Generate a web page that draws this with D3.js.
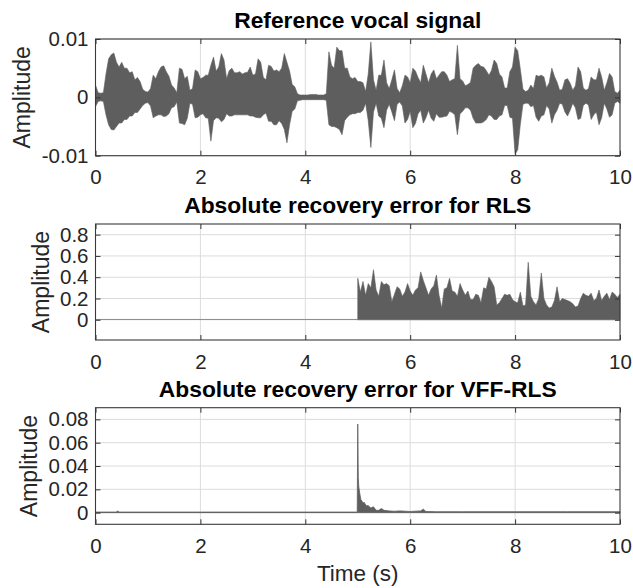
<!DOCTYPE html>
<html>
<head>
<meta charset="utf-8">
<script src="https://cdn.jsdelivr.net/npm/d3@7"></script>
<style>
body { margin: 0; background: #fff; }
text { font-family: "Liberation Sans", Arial, Helvetica, sans-serif; }
</style>
</head>
<body>
<svg id="chart"></svg>
<script>
// time axis
var xTicks = [0, 2, 4, 6, 8, 10];

// reference vocal signal, envelope every 0.05 s from t = 0, in units of 1e-3
var vocalStep = 0.05;
var vocalUpper = [
  2.1,0.8,0.7,0.8,4.0,6.6,7.3,7.6,6.0,5.2,6.0,5.0,5.0,4.2,4.4,3.0,3.4,2.7,1.4,1.0,
  0.9,1.5,3.8,3.2,4.4,5.2,5.4,4.4,3.6,2.1,1.6,0.8,5.0,4.8,3.2,3.6,1.2,1.5,4.7,4.4,
  3.2,3.4,3.8,3.8,5.5,6.9,4.5,5.2,7.5,6.4,3.2,4.6,5.0,4.2,4.2,4.4,4.0,4.2,4.3,5.2,
  3.8,4.0,6.6,6.0,3.4,3.0,5.5,5.3,4.5,4.7,4.4,5.0,7.5,6.0,4.5,2.2,1.8,0.6,0.4,0.4,
  0.4,0.4,0.5,0.5,0.5,0.4,0.4,0.4,0.6,7.8,5.5,5.0,8.6,8.0,8.0,5.0,5.0,3.5,3.2,3.4,
  2.7,2.7,2.5,1.0,4.0,9.5,3.0,1.2,3.8,3.8,6.4,2.5,1.5,3.0,4.7,1.5,0.8,2.0,3.8,3.5,
  2.5,5.0,4.5,3.4,2.5,5.5,4.0,2.5,4.0,4.7,3.2,3.8,4.4,4.4,3.8,2.7,3.0,3.2,8.9,3.2,
  2.8,2.0,2.2,2.6,5.0,5.5,5.8,5.3,5.2,4.6,3.8,4.6,6.4,5.8,4.0,3.5,1.6,1.6,4.4,5.2,
  8.6,8.0,4.8,1.4,1.0,1.2,2.1,1.5,3.8,3.6,3.8,3.5,1.6,2.5,5.0,3.6,2.6,1.2,1.4,3.0,
  3.2,2.4,1.2,2.0,5.2,4.4,1.6,1.2,1.5,3.5,3.0,3.0,5.0,3.5,1.2,2.5,4.1,3.5,1.0,0.7,
  1.2
];
var vocalLower = [
  -1.6,-0.7,-0.6,-0.7,-3.0,-4.7,-5.5,-5.6,-5.0,-4.4,-4.4,-3.8,-3.8,-3.2,-3.2,-2.6,-2.6,-2.0,-1.4,-1.0,
  -0.9,-1.5,-3.5,-3.2,-3.0,-3.0,-3.3,-3.2,-2.8,-1.8,-1.6,-0.8,-4.4,-4.5,-4.7,-3.6,-1.0,-1.2,-3.5,-3.4,
  -3.0,-2.8,-3.5,-3.6,-7.5,-4.0,-3.5,-3.6,-4.2,-3.8,-2.8,-3.2,-3.2,-3.0,-3.0,-3.0,-3.0,-3.0,-3.0,-3.2,
  -3.2,-3.4,-3.5,-3.5,-3.0,-2.7,-4.1,-4.1,-4.7,-4.7,-4.0,-4.5,-5.5,-7.8,-4.7,-2.4,-2.0,-0.6,-0.5,-0.4,
  -0.4,-0.4,-0.4,-0.4,-0.4,-0.4,-0.4,-0.4,-0.5,-4.7,-5.0,-5.0,-5.2,-5.5,-6.4,-4.0,-3.4,-3.0,-2.8,-2.8,
  -2.6,-2.6,-2.2,-1.0,-4.0,-8.6,-2.5,-1.0,-3.2,-3.6,-5.2,-2.2,-1.2,-2.5,-4.0,-1.2,-0.8,-1.5,-4.4,-3.8,
  -2.4,-5.2,-4.5,-2.8,-2.2,-4.4,-3.5,-2.2,-3.6,-4.1,-2.8,-3.4,-3.4,-3.3,-3.2,-2.4,-2.6,-3.0,-6.4,-2.8,
  -2.4,-1.8,-1.8,-2.2,-3.6,-4.4,-4.4,-4.4,-4.2,-3.8,-3.0,-3.2,-3.8,-3.8,-3.2,-3.0,-1.4,-1.4,-3.4,-3.6,
  -9.7,-9.0,-4.6,-1.2,-1.0,-1.0,-1.6,-1.4,-3.4,-4.1,-3.2,-3.0,-1.4,-2.0,-4.4,-3.0,-2.2,-1.0,-1.2,-2.5,
  -3.2,-2.2,-1.0,-1.8,-3.8,-3.6,-1.4,-1.0,-1.3,-3.8,-3.0,-2.5,-4.7,-3.5,-1.0,-2.0,-3.4,-3.0,-1.0,-0.7,
  -1.0
];
var vocalTicks = [-0.01, 0, 0.01];

// RLS error: flat before the change at 5 s, then envelope every 0.05 s
var rlsFlatTime = [0, 5];
var rlsFlatValue = [0.003, 0.003];
var rlsStart = 5;
var rlsStep = 0.05;
var rlsError = [
  0.39,0.26,0.36,0.23,0.34,0.30,0.47,0.28,0.22,0.36,0.33,0.34,0.32,0.17,0.24,0.31,0.29,0.22,0.26,0.34,
  0.27,0.23,0.28,0.30,0.45,0.37,0.30,0.23,0.29,0.32,0.42,0.23,0.11,0.29,0.30,0.39,0.27,0.26,0.22,0.34,
  0.28,0.23,0.27,0.19,0.19,0.24,0.23,0.16,0.30,0.29,0.40,0.36,0.31,0.14,0.16,0.20,0.24,0.23,0.24,0.19,
  0.17,0.16,0.26,0.13,0.14,0.54,0.22,0.17,0.14,0.20,0.44,0.20,0.14,0.11,0.12,0.18,0.31,0.17,0.20,0.19,
  0.18,0.17,0.15,0.12,0.13,0.20,0.25,0.23,0.22,0.25,0.18,0.20,0.28,0.18,0.22,0.25,0.19,0.26,0.24,0.21,
  0.24
];
var rlsTicks = [0, 0.2, 0.4, 0.6, 0.8];

// VFF-RLS error
var vffTime = [0, 0.4, 0.42, 0.45, 1, 2, 3, 4, 4.99,
  5.0, 5.01, 5.02, 5.04, 5.06, 5.08, 5.1, 5.12, 5.16, 5.2,
  5.25, 5.3, 5.35, 5.4, 5.45, 5.5, 5.6, 5.7, 5.8,
  6.0, 6.2, 6.25, 6.3, 6.5, 7, 8, 9, 10];
var vffError = [0.0005, 0.0005, 0.0015, 0.0005, 0.0005, 0.0005, 0.0005, 0.0005, 0.0005,
  0.076, 0.03, 0.022, 0.016, 0.011, 0.010, 0.008, 0.009, 0.006, 0.006,
  0.004, 0.005, 0.002, 0.002, 0.0035, 0.002, 0.0015, 0.0012, 0.0015,
  0.001, 0.0015, 0.003, 0.001, 0.0008, 0.0008, 0.0008, 0.0008, 0.0008];
var vffTicks = [0, 0.02, 0.04, 0.06, 0.08];

var width = 633, height = 588;
var plotLeft = 95.5, plotRight = 620;
var ink = '#5e5e5e';

var svg = d3.select('#chart')
            .attr('width', width)
            .attr('height', height);

var x = d3.scaleLinear().domain([0, 10]).range([plotLeft, plotRight]);

function fmt(d) { return d === 0 ? '0' : String(d); }

function drawPanel(top, bottom, domain, ticks, title, titleY, labelX) {
    var y = d3.scaleLinear().domain(domain).range([bottom, top]);
    var g = svg.append('g');

    // grid
    g.selectAll('.vgrid').data(xTicks.slice(1, -1)).enter()
        .append('line')
        .attr('x1', d => x(d)).attr('x2', d => x(d))
        .attr('y1', top).attr('y2', bottom)
        .attr('stroke', '#dcdcdc');
    g.selectAll('.hgrid').data(ticks).enter()
        .append('line')
        .attr('x1', plotLeft).attr('x2', plotRight)
        .attr('y1', d => y(d)).attr('y2', d => y(d))
        .attr('stroke', '#dcdcdc');

    var data = g.append('g');

    // axes with inward ticks
    var ax = [
        g.append('g').attr('transform', `translate(0,${bottom})`)
            .call(d3.axisBottom(x).tickValues(xTicks).tickSize(-5).tickPadding(14).tickFormat(fmt)),
        g.append('g').attr('transform', `translate(0,${top})`)
            .call(d3.axisTop(x).tickValues(xTicks).tickSize(-5).tickFormat('')),
        g.append('g').attr('transform', `translate(${plotLeft},0)`)
            .call(d3.axisLeft(y).tickValues(ticks).tickSize(-5).tickPadding(7).tickFormat(fmt)),
        g.append('g').attr('transform', `translate(${plotRight},0)`)
            .call(d3.axisRight(y).tickValues(ticks).tickSize(-5).tickFormat(''))
    ];
    ax.forEach(a => {
        a.select('.domain').remove();
        a.selectAll('line').attr('stroke', '#333');
        a.selectAll('text').attr('fill', '#262626').style('font-size', '20.5px')
            .style('font-family', '"Liberation Sans", Arial, sans-serif');
    });

    g.append('rect')
        .attr('x', plotLeft).attr('y', top)
        .attr('width', plotRight - plotLeft).attr('height', bottom - top)
        .attr('fill', 'none').attr('stroke', '#3a3a3a').attr('stroke-width', 1.1);

    g.append('text')
        .attr('x', (plotLeft + plotRight) / 2).attr('y', titleY)
        .attr('text-anchor', 'middle')
        .style('font-size', '22.8px').style('font-weight', 'bold')
        .text(title);

    g.append('text')
        .attr('transform', `translate(${labelX},${(top + bottom) / 2}) rotate(-90)`)
        .attr('text-anchor', 'middle')
        .attr('dominant-baseline', 'central')
        .attr('fill', '#262626')
        .style('font-size', '23px')
        .text('Amplitude');

    return {y: y, g: data};
}

// panel 1
var p1 = drawPanel(39, 155.7, [-0.01, 0.01], vocalTicks, 'Reference vocal signal', 28, 22);
var vocalArea = d3.area()
    .x((d, i) => x(i * vocalStep))
    .y0((d, i) => p1.y(vocalLower[i] / 1000))
    .y1(d => p1.y(d / 1000));
p1.g.append('path')
    .datum(vocalUpper)
    .attr('d', vocalArea)
    .attr('fill', ink).attr('stroke', ink).attr('stroke-width', 0.6);

// panel 2
var p2 = drawPanel(224, 340, [-0.19, 0.9], rlsTicks, 'Absolute recovery error for RLS', 213, 41);
p2.g.append('path')
    .datum(rlsFlatValue)
    .attr('d', d3.line().x((d, i) => x(rlsFlatTime[i])).y(d => p2.y(d)))
    .attr('fill', 'none').attr('stroke', '#8a8a8a').attr('stroke-width', 1);
var rlsArea = d3.area()
    .x((d, i) => x(rlsStart + i * rlsStep))
    .y0(p2.y(0))
    .y1(d => p2.y(d));
p2.g.append('path')
    .datum(rlsError)
    .attr('d', rlsArea)
    .attr('fill', ink).attr('stroke', ink).attr('stroke-width', 0.6);

// panel 3
var p3 = drawPanel(407.7, 524.3, [-0.01, 0.09], vffTicks, 'Absolute recovery error for VFF-RLS', 397, 29);
var vffArea = d3.area()
    .x((d, i) => x(vffTime[i]))
    .y0(p3.y(0))
    .y1(d => p3.y(d));
p3.g.append('path')
    .datum(vffError)
    .attr('d', vffArea)
    .attr('fill', ink).attr('stroke', ink).attr('stroke-width', 0.8);

svg.append('text')
    .attr('x', (plotLeft + plotRight) / 2).attr('y', 581)
    .attr('text-anchor', 'middle')
    .attr('fill', '#262626')
    .style('font-size', '22.5px')
    .text('Time (s)');
</script>
</body>
</html>
